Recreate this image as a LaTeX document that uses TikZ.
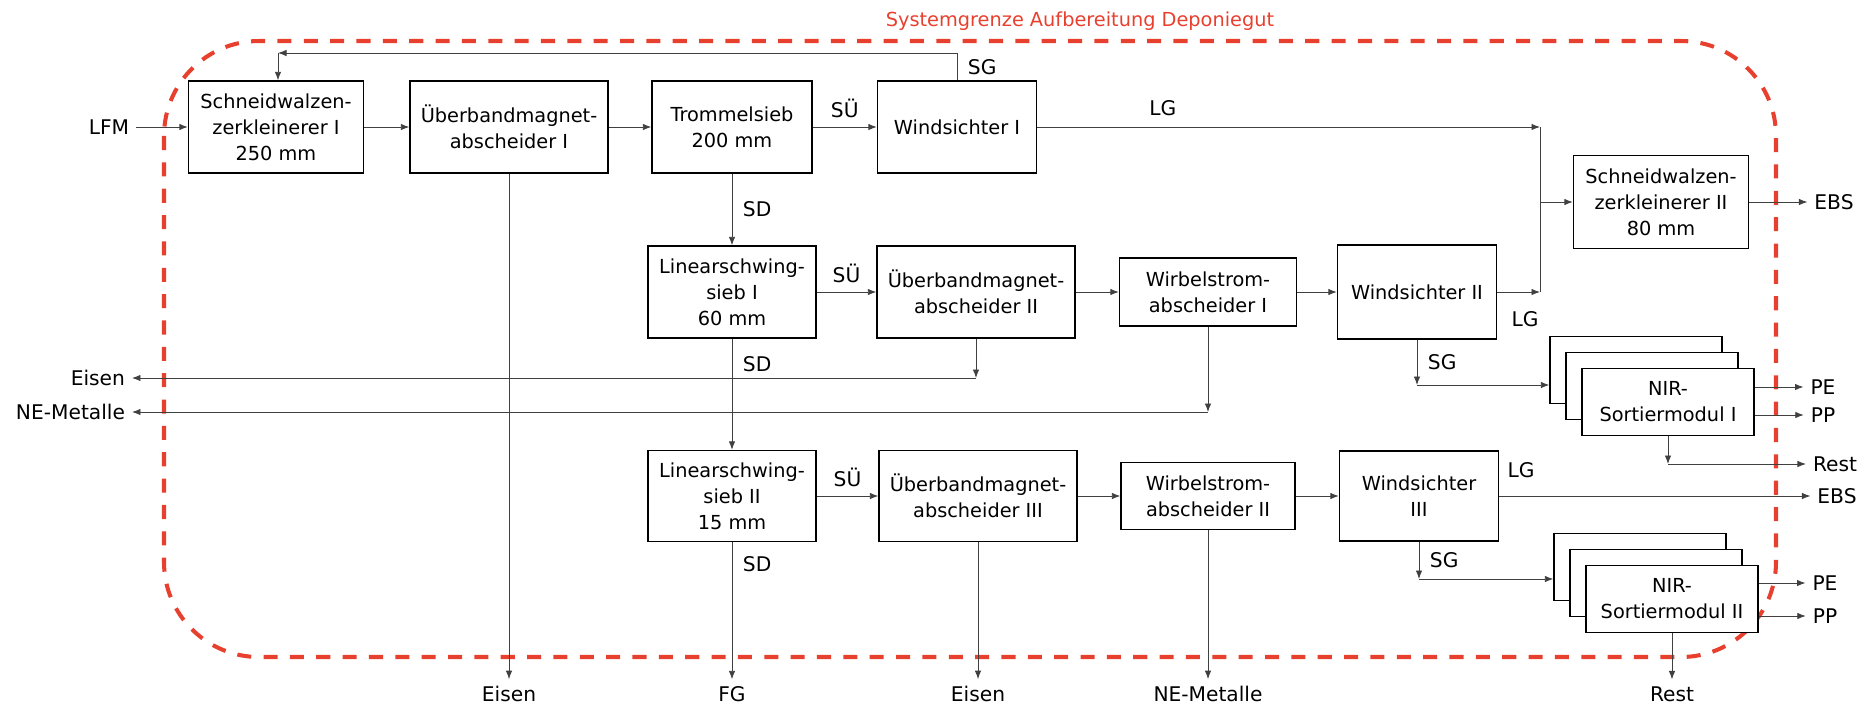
\documentclass[tikz,border=0pt]{standalone}
\usepackage{fontspec}
\setmainfont{DejaVu Sans}
\usetikzlibrary{positioning,arrows.meta}

\begin{document}
\begin{tikzpicture}[
  x=0.02cm, y=-0.02cm,
  font=\fontsize{11}{14.8}\selectfont,
  >={Latex[length=1.7mm,width=1.3mm]},
  box/.style={draw=black, line width=0.8pt, align=center, fill=white,
              minimum width=#1, minimum height=1.84cm, inner sep=1pt},
  wbox/.style={box=#1, minimum height=1.36cm},
  nir/.style={box=3.44cm, minimum height=1.33cm},
  flow/.style={->, line width=0.5pt, black!75},
  pipe/.style={line width=0.5pt, black!75},
  lbl/.style={font=\fontsize{11.5}{14}\selectfont, inner sep=2pt, outer sep=2pt},
  tag/.style={font=\fontsize{11.5}{14}\selectfont, inner sep=2pt, text=black},
  bound/.style={draw=sysred, line width=2.3pt, dash pattern=on 8pt off 7pt,
                rounded corners=1.9cm},
]
\definecolor{sysred}{HTML}{E8402F}
\useasboundingbox (0,0) rectangle (1874,707);

% ---- system boundary ----
\draw[bound] (164,41) rectangle (1776,657);
\node[text=sysred, font=\fontsize{11}{13}\selectfont] (title) at (1080,21) {Systemgrenze Aufbereitung Deponiegut};

% ---- first line ----
\node[lbl] (lfm) at (109,127) {LFM};
\node[box=3.5cm] (sw1) at (276,127) {Schneidwalzen-\\zerkleinerer I\\250 mm};
\node[box=3.96cm] (ubm1) at (509,127) {Überbandmagnet-\\abscheider I};
\node[box=3.2cm] (trs) at (732,127) {Trommelsieb\\200 mm};
\node[box=3.18cm] (ws1) at (957,127) {Windsichter I};
\node[box=3.5cm, minimum height=1.86cm] (sw2) at (1661,202) {Schneidwalzen-\\zerkleinerer II\\80 mm};
\node[lbl] (ebs1) at (1834,202) {EBS};

% ---- second line ----
\node[box=3.36cm] (ls1) at (732,292) {Linearschwing-\\sieb I\\60 mm};
\node[box=3.96cm] (ubm2) at (976,292) {Überbandmagnet-\\abscheider II};
\node[wbox=3.54cm] (wbs1) at (1208,292) {Wirbelstrom-\\abscheider I};
\node[box=3.18cm, minimum height=1.88cm] (ws2) at (1417,292) {Windsichter II};

\node[nir] (nir1c) at (1636,370) {};
\node[nir] (nir1b) at (1652,386) {};
\node[nir] (nir1) at (1668,402) {NIR-\\Sortiermodul I};
\node[lbl] (pe1) at (1823,387) {PE};
\node[lbl] (pp1) at (1823,415) {PP};
\node[lbl] (rest1) at (1835,464) {Rest};
\node[lbl, anchor=east] (eisenL) at (132,378) {Eisen};
\node[lbl, anchor=east] (neL) at (132,412) {NE-Metalle};

% ---- third line ----
\node[box=3.36cm, minimum height=1.82cm] (ls2) at (732,496) {Linearschwing-\\sieb II\\15 mm};
\node[box=3.96cm, minimum height=1.82cm] (ubm3) at (978,496) {Überbandmagnet-\\abscheider III};
\node[wbox=3.48cm, minimum height=1.34cm] (wbs2) at (1208,496) {Wirbelstrom-\\abscheider II};
\node[box=3.18cm, minimum height=1.8cm] (ws3) at (1419,496) {Windsichter\\III};
\node[lbl] (ebs2) at (1837,496) {EBS};

\node[nir] (nir2c) at (1640,567) {};
\node[nir] (nir2b) at (1656,583) {};
\node[nir] (nir2) at (1672,599) {NIR-\\Sortiermodul II};
\node[lbl] (pe2) at (1825,583) {PE};
\node[lbl] (pp2) at (1825,616) {PP};

% ---- outputs at the bottom ----
\node[lbl] (eisenB) at (509,694) {Eisen};
\node[lbl] (fg) at (732,694) {FG};
\node[lbl] (eisenC) at (978,694) {Eisen};
\node[lbl] (neB) at (1208,694) {NE-Metalle};
\node[lbl] (rest2) at (1672,694) {Rest};

% ---- junctions ----
\coordinate (fbL) at (278,53);
\coordinate (mrg) at (1540,202);
\coordinate (sg1) at (1417,385);
\coordinate (sg2) at (1419,579);

% ---- arrows ----
\draw[flow] (lfm) -- (sw1);
\draw[flow] (sw1) -- (ubm1);
\draw[flow] (ubm1) -- (trs);
\draw[flow] (trs) -- (ws1) node[tag, midway, above=3pt] {SÜ};
\draw[flow] (ws1.north) |- (fbL) node[tag, pos=0.25, right=4pt] {SG};
\draw[flow] (fbL) -- (fbL |- sw1.north);
\draw[flow] (ws1) -- (ws1 -| mrg) node[tag, pos=0.25, above=4pt] {LG};
\draw[pipe] (ws1 -| mrg) -- (ws2 -| mrg);
\draw[flow] (mrg) -- (sw2);
\draw[flow] (sw2) -- (ebs1);
\draw[flow] (ubm1) -- (eisenB);
\draw[flow] (trs) -- (ls1) node[tag, midway, right=4pt] {SD};

\draw[flow] (ls1) -- (ubm2) node[tag, midway, above=3pt] {SÜ};
\draw[flow] (ubm2) -- (wbs1);
\draw[flow] (wbs1) -- (ws2);
\draw[flow] (ws2) -- (ws2 -| mrg) node[tag, pos=0.65, below=9pt] {LG};
\draw[flow] (ls1) -- (ls2) node[tag, pos=0.23, right=4pt] {SD};
\draw[flow] (ubm2) -- (ubm2 |- eisenL);
\draw[flow] (ubm2 |- eisenL) -- (eisenL);
\draw[flow] (wbs1) -- (wbs1 |- neL);
\draw[flow] (wbs1 |- neL) -- (neL);
\draw[flow] (ws2) -- (sg1) node[tag, midway, right=4pt] {SG};
\draw[flow] (sg1) -- (sg1 -| nir1c.west);
\draw[flow] (nir1.east |- pe1) -- (pe1);
\draw[flow] (nir1.east |- pp1) -- (pp1);
\draw[flow] (nir1) -- (nir1 |- rest1);
\draw[flow] (nir1 |- rest1) -- (rest1);

\draw[flow] (ls2) -- (ubm3) node[tag, midway, above=3pt] {SÜ};
\draw[flow] (ubm3) -- (wbs2);
\draw[flow] (wbs2) -- (ws3);
\draw[flow] (ws3) -- (ebs2) node[tag, pos=0.07, above=8pt] {LG};
\draw[flow] (ws3) -- (sg2) node[tag, midway, right=4pt] {SG};
\draw[flow] (sg2) -- (sg2 -| nir2c.west);
\draw[flow] (nir2.east |- pe2) -- (pe2);
\draw[flow] (nir2.east |- pp2) -- (pp2);
\draw[flow] (nir2) -- (rest2);
\draw[flow] (ls2) -- (fg) node[tag, pos=0.16, right=4pt] {SD};
\draw[flow] (ubm3) -- (eisenC);
\draw[flow] (wbs2) -- (neB);
\end{tikzpicture}
\end{document}
